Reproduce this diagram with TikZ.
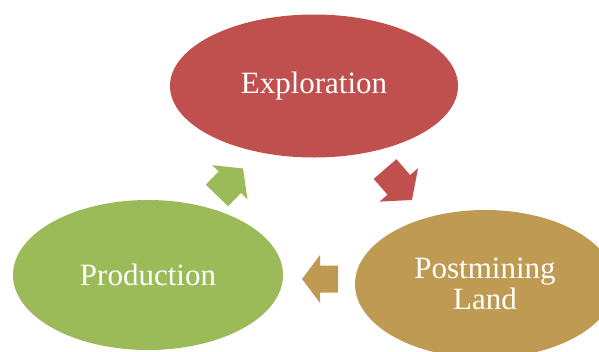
\documentclass[tikz,border=0pt]{standalone}
\usepackage{fontspec}
\setmainfont{Liberation Serif}
\usetikzlibrary{shapes.geometric}
\definecolor{cred}{HTML}{C0504D}
\definecolor{cgreen}{HTML}{9BBB59}
\definecolor{cgold}{HTML}{BF9A53}
\tikzset{
  blob/.style={ellipse, inner sep=0pt, text=white, align=center, font=\fontsize{31}{31}\selectfont},
}
\newcommand{\blockarrow}[4]{% length, head width, shaft width, head length
  (-#1/2,-#3/2) -- (#1/2-#4,-#3/2) -- (#1/2-#4,-#2/2) -- (#1/2,0) -- (#1/2-#4,#2/2) -- (#1/2-#4,#3/2) -- (-#1/2,#3/2) -- cycle}
\begin{document}
\begin{tikzpicture}[x=1pt,y=-1pt]
\useasboundingbox (0,0) rectangle (599,351);
\clip (0,0) rectangle (599,351);
\node[blob, fill=cred, minimum width=288pt, minimum height=143pt] (expl) at (314,86) {Exploration};
\node[blob, fill=cgreen, minimum width=270pt, minimum height=150pt] (prod) at (148,275) {Production};
\node[blob, fill=cgold, minimum width=260pt, minimum height=148pt] (post) at (485,284) {Postmining\\Land};
\fill[cgreen, shift={(230,182)}, rotate=46] \blockarrow{37.5}{49}{31}{19};
\fill[cred, shift={(398.5,184.5)}, rotate=-49] \blockarrow{41}{51}{30}{20};
\fill[cgold, shift={(320,279)}, rotate=180] \blockarrow{36}{48}{27}{18};
\end{tikzpicture}
\end{document}
